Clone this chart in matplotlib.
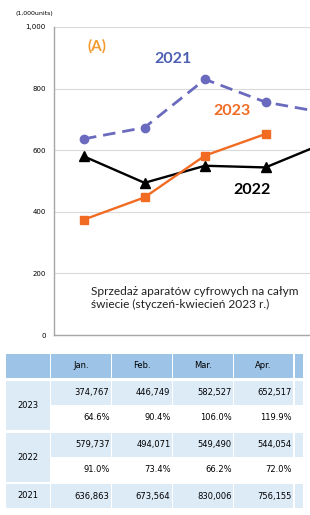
import matplotlib.pyplot as plt
from matplotlib.patches import Rectangle

months = ['Jan.', 'Feb.', 'Mar.', 'Apr.']
sales_2023 = [374767, 446749, 582527, 652517]
sales_2022 = [579737, 494071, 549490, 544054, 625000]   # last point (May) only partly visible
sales_2021 = [636863, 673564, 830006, 756155, 721000]
pct_2023 = ['64.6%', '90.4%', '106.0%', '119.9%']
pct_2022 = ['91.0%', '73.4%', '66.2%', '72.0%']
yticks = [0, 200, 400, 600, 800, 1000]

W, H = 310, 515
fig = plt.figure(figsize=(W / 100, H / 100), dpi=100)

def px(x0, y0, x1, y1):
    # pixel box -> figure fraction [left, bottom, width, height]
    return [x0 / W, 1 - y1 / H, (x1 - x0) / W, (y1 - y0) / H]

# ---- line chart ----
ax = fig.add_axes(px(54, 27, 310, 335))
step = 60.5
ax.set_xlim(-(84 - 54) / step, (310 - 84) / step)
ax.set_ylim(0, 1000)

blue = '#6A6ABF'
orange = '#F26B22'
ax.plot(range(len(sales_2021)), [v / 1000 for v in sales_2021], color=blue, lw=2.0,
        ls=(0, (4.5, 2.5)), marker='o', ms=6, zorder=3)
ax.plot(range(len(sales_2022)), [v / 1000 for v in sales_2022], color='black', lw=1.7,
        marker='^', ms=6.5, zorder=4)
ax.plot(range(len(sales_2023)), [v / 1000 for v in sales_2023], color=orange, lw=1.7,
        marker='s', ms=6, zorder=5)

ax.set_yticks(yticks)
ax.set_yticklabels([f'{t:,}' for t in yticks], fontsize=5)
ax.set_xticks([])
ax.tick_params(axis='y', length=0, pad=6)
ax.grid(axis='y', color='#D9D9D9', lw=0.8)
ax.set_axisbelow(True)
for s in ['top', 'right']:
    ax.spines[s].set_visible(False)
for s in ['left', 'bottom']:
    ax.spines[s].set_color('#A6A6A6')
    ax.spines[s].set_linewidth(1)

fig.text(15 / W, 1 - 14 / H, '(1,000units)', fontsize=4.5, va='center', ha='left')
fig.text(97 / W, 1 - 46 / H, '(A)', fontsize=11, color='#F39A2E', ha='center', va='center',
         family='Lato', weight='bold')
fig.text(173 / W, 1 - 59 / H, '2021', fontsize=11.5, color='#4D5FB2', ha='center', va='center',
         family='Lato', weight='bold')
fig.text(232 / W, 1 - 111 / H, '2023', fontsize=11.5, color=orange, ha='center', va='center',
         family='Lato', weight='bold')
fig.text(252 / W, 1 - 190 / H, '2022', fontsize=11.5, color='black', ha='center', va='center',
         family='Lato', weight='bold')
fig.text(91 / W, 1 - 298 / H, 'Sprzedaż aparatów cyfrowych na całym\nświecie (styczeń-kwiecień 2023 r.)',
         fontsize=8.6, family='Lato', color='#222222', ha='left', va='center', linespacing=1.2)

# ---- table ----
tb = fig.add_axes([0, 0, 1, 1])
tb.set_xlim(0, W)
tb.set_ylim(H, 0)
tb.axis('off')

hdr = '#9DC3E6'
light = '#DDEBF7'
cols = [(6, 50), (51, 111), (112, 172), (173, 233), (234, 293), (295, 303)]
rows = [(354, 378), (381, 405), (406, 430), (433, 457), (458, 482), (484, 508)]
fs = 6

def cell(c, r, color):
    x0, x1 = c
    y0, y1 = r
    tb.add_patch(Rectangle((x0, y0), x1 - x0, y1 - y0, color=color, lw=0))

for c in cols:
    cell(c, rows[0], hdr)
for i, m in enumerate(months):
    x0, x1 = cols[i + 1]
    tb.text((x0 + x1) / 2, sum(rows[0]) / 2, m, fontsize=fs, ha='center', va='center')

# year cells
cell(cols[0], (rows[1][0], rows[2][1]), light)
cell(cols[0], (rows[3][0], rows[4][1]), light)
cell(cols[0], rows[5], light)
tb.text(sum(cols[0]) / 2, (rows[1][0] + rows[2][1]) / 2, '2023', fontsize=fs, ha='center', va='center')
tb.text(sum(cols[0]) / 2, (rows[3][0] + rows[4][1]) / 2, '2022', fontsize=fs, ha='center', va='center')
tb.text(sum(cols[0]) / 2, sum(rows[5]) / 2, '2021', fontsize=fs, ha='center', va='center')

table_rows = [
    ([f'{v:,}' for v in sales_2023], light),
    (pct_2023, 'white'),
    ([f'{v:,}' for v in sales_2022[:4]], light),
    (pct_2022, 'white'),
    ([f'{v:,}' for v in sales_2021[:4]], light),
]
for k, (vals, color) in enumerate(table_rows):
    r = rows[k + 1]
    for c in cols[1:]:
        cell(c, r, color)
    for i, v in enumerate(vals):
        x0, x1 = cols[i + 1]
        tb.text(x1 - 1.5, sum(r) / 2, v, fontsize=fs, ha='right', va='center')

fig.savefig('out.png', dpi=100)
